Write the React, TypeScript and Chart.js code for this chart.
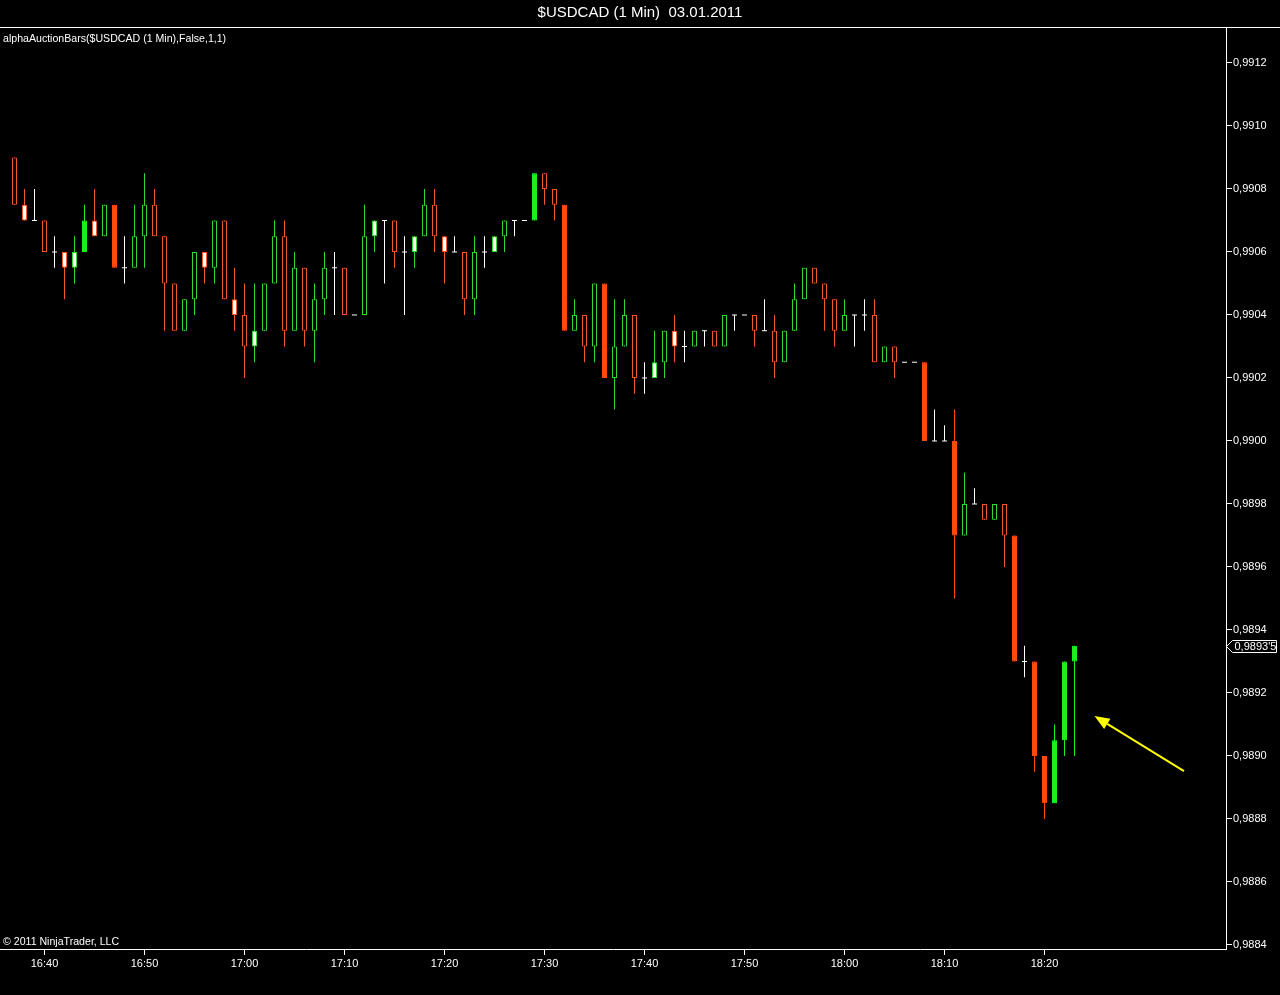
import React, { useEffect, useRef } from 'react';
import { Chart, registerables } from 'chart.js';

Chart.register(...registerables);

// ---------- data ----------
const TITLE = '$USDCAD (1 Min)  03.01.2011';
const INDICATOR_LABEL = 'alphaAuctionBars($USDCAD (1 Min),False,1,1)';
const COPYRIGHT = '\u00A9 2011 NinjaTrader, LLC';

const times = [
  '16:37','16:38','16:39','16:40','16:41','16:42','16:43','16:44','16:45','16:46',
  '16:47','16:48','16:49','16:50','16:51','16:52','16:53','16:54','16:55','16:56',
  '16:57','16:58','16:59','17:00','17:01','17:02','17:03','17:04','17:05','17:06',
  '17:07','17:08','17:09','17:10','17:11','17:12','17:13','17:14','17:15','17:16',
  '17:17','17:18','17:19','17:20','17:21','17:22','17:23','17:24','17:25','17:26',
  '17:27','17:28','17:29','17:30','17:31','17:32','17:33','17:34','17:35','17:36',
  '17:37','17:38','17:39','17:40','17:41','17:42','17:43','17:44','17:45','17:46',
  '17:47','17:48','17:49','17:50','17:51','17:52','17:53','17:54','17:55','17:56',
  '17:57','17:58','17:59','18:00','18:01','18:02','18:03','18:04','18:05','18:06',
  '18:07','18:08','18:09','18:10','18:11','18:12','18:13','18:14','18:15','18:16',
  '18:17','18:18','18:19','18:20','18:21','18:22','18:23',
];

const opens = [
  0.99090,0.99075,0.99070,0.99070,0.99060,0.99060,0.99055,0.99060,0.99070,0.99065,
  0.99075,0.99055,0.99055,0.99065,0.99075,0.99065,0.99050,0.99035,0.99045,0.99060,
  0.99055,0.99070,0.99045,0.99040,0.99030,0.99035,0.99050,0.99065,0.99035,0.99055,
  0.99035,0.99045,0.99055,0.99055,0.99040,0.99040,0.99065,0.99070,0.99070,0.99060,
  0.99060,0.99065,0.99075,0.99065,0.99060,0.99060,0.99045,0.99060,0.99060,0.99065,
  0.99070,0.99070,0.99070,0.99085,0.99080,0.99075,0.99035,0.99040,0.99030,0.99050,
  0.99020,0.99030,0.99040,0.99020,0.99020,0.99025,0.99035,0.99030,0.99030,0.99035,
  0.99035,0.99030,0.99040,0.99040,0.99040,0.99035,0.99035,0.99025,0.99035,0.99045,
  0.99055,0.99050,0.99045,0.99035,0.99040,0.99040,0.99040,0.99025,0.99030,0.99025,
  0.99025,0.99025,0.99000,0.99000,0.99000,0.98970,0.98980,0.98980,0.98975,0.98980,
  0.98970,0.98930,0.98930,0.98900,0.98885,0.98905,0.98930,
];

const highs = [
  0.99090,0.99080,0.99080,0.99070,0.99065,0.99060,0.99065,0.99075,0.99080,0.99075,
  0.99075,0.99065,0.99075,0.99085,0.99080,0.99065,0.99050,0.99045,0.99060,0.99060,
  0.99070,0.99070,0.99055,0.99050,0.99050,0.99050,0.99070,0.99070,0.99060,0.99055,
  0.99050,0.99060,0.99060,0.99055,0.99040,0.99075,0.99070,0.99070,0.99070,0.99065,
  0.99065,0.99080,0.99080,0.99065,0.99065,0.99060,0.99065,0.99065,0.99065,0.99070,
  0.99070,0.99070,0.99085,0.99085,0.99080,0.99075,0.99045,0.99040,0.99050,0.99050,
  0.99045,0.99045,0.99040,0.99025,0.99035,0.99035,0.99040,0.99035,0.99035,0.99035,
  0.99035,0.99040,0.99040,0.99040,0.99040,0.99045,0.99040,0.99035,0.99050,0.99055,
  0.99055,0.99050,0.99045,0.99045,0.99040,0.99045,0.99045,0.99030,0.99030,0.99025,
  0.99025,0.99025,0.99010,0.99005,0.99010,0.98990,0.98985,0.98980,0.98980,0.98980,
  0.98970,0.98935,0.98930,0.98900,0.98910,0.98930,0.98935,
];

const lows = [
  0.99075,0.99070,0.99070,0.99060,0.99055,0.99045,0.99050,0.99060,0.99065,0.99065,
  0.99055,0.99050,0.99055,0.99055,0.99065,0.99035,0.99035,0.99035,0.99040,0.99050,
  0.99050,0.99045,0.99035,0.99020,0.99025,0.99035,0.99050,0.99030,0.99035,0.99030,
  0.99025,0.99040,0.99040,0.99040,0.99040,0.99040,0.99060,0.99050,0.99055,0.99040,
  0.99055,0.99065,0.99060,0.99050,0.99060,0.99040,0.99040,0.99055,0.99060,0.99060,
  0.99065,0.99070,0.99070,0.99075,0.99070,0.99035,0.99035,0.99025,0.99025,0.99020,
  0.99010,0.99030,0.99015,0.99015,0.99020,0.99020,0.99025,0.99025,0.99030,0.99030,
  0.99030,0.99030,0.99035,0.99040,0.99030,0.99035,0.99020,0.99025,0.99035,0.99045,
  0.99050,0.99035,0.99030,0.99035,0.99030,0.99035,0.99025,0.99025,0.99020,0.99025,
  0.99025,0.99000,0.99000,0.99000,0.98950,0.98970,0.98980,0.98975,0.98975,0.98960,
  0.98930,0.98925,0.98895,0.98880,0.98885,0.98900,0.98900,
];

const closes = [
  0.99075,0.99070,0.99070,0.99060,0.99060,0.99055,0.99060,0.99070,0.99065,0.99075,
  0.99055,0.99055,0.99065,0.99075,0.99065,0.99050,0.99035,0.99045,0.99060,0.99055,
  0.99070,0.99045,0.99040,0.99030,0.99035,0.99050,0.99065,0.99035,0.99055,0.99035,
  0.99045,0.99055,0.99055,0.99040,0.99040,0.99065,0.99070,0.99070,0.99060,0.99060,
  0.99065,0.99075,0.99065,0.99060,0.99060,0.99045,0.99060,0.99060,0.99065,0.99070,
  0.99070,0.99070,0.99085,0.99080,0.99075,0.99035,0.99040,0.99030,0.99050,0.99020,
  0.99030,0.99040,0.99020,0.99020,0.99025,0.99035,0.99030,0.99030,0.99035,0.99035,
  0.99030,0.99040,0.99040,0.99040,0.99035,0.99035,0.99025,0.99035,0.99045,0.99055,
  0.99050,0.99045,0.99035,0.99040,0.99040,0.99040,0.99025,0.99030,0.99025,0.99025,
  0.99025,0.99000,0.99000,0.99000,0.98970,0.98980,0.98980,0.98975,0.98980,0.98970,
  0.98930,0.98930,0.98900,0.98885,0.98905,0.98930,0.98935,
];

// bar state from the indicator: h = hollow, w = white body, s = solid, d = doji
const barKinds = [
  'h','w','d','h','d','w','w','s','w','h',
  's','d','h','h','h','h','h','h','h','w',
  'h','h','w','h','w','h','h','h','h','h',
  'h','h','d','h','d','h','w','d','h','d',
  'w','h','h','w','d','h','h','d','w','h',
  'd','d','s','h','h','s','h','h','h','s',
  'h','h','h','d','w','h','w','d','h','d',
  'h','h','d','d','h','d','h','h','h','h',
  'h','h','h','h','d','d','h','h','h','d',
  'd','s','d','d','s','h','d','h','h','h',
  's','d','s','s','s','s','s',
];

const xTickLabels = ['16:40','16:50','17:00','17:10','17:20','17:30','17:40','17:50','18:00','18:10','18:20'];
const yTickValues = [0.9884,0.9886,0.9888,0.9890,0.9892,0.9894,0.9896,0.9898,0.9900,0.9902,0.9904,0.9906,0.9908,0.9910,0.9912];

// annotation arrow (data space: bar index, price)
const arrowTail = { x: 116.95, y: 0.988952 };
const arrowTip = { x: 108.0, y: 0.989127 };

// ---------- styling ----------
const ORANGE_LINE = '#F2592A';
const ORANGE_FILL = '#FF4A0C';
const GREEN_LINE = '#34D834';
const GREEN_FILL = '#1DEF1D';
const WHITE = '#FFFFFF';
const FONT = '"Liberation Sans", Arial, sans-serif';

const X_MIN = -1.45;
const X_MAX = 121.15;
const Y_MIN = 0.9883873;
const Y_MAX = 0.99131111;

export default function App() {
  const ref = useRef<HTMLCanvasElement>(null);

  useEffect(() => {
    const canvas = ref.current;
    if (!canvas) return;

    const n = times.length;
    const idx = Array.from({ length: n }, (_, i) => i);
    const isDoji = (i: number) => opens[i] === closes[i];
    const isUp = (i: number) => closes[i] > opens[i];
    const lineCol = (i: number) => (isDoji(i) ? WHITE : isUp(i) ? GREEN_LINE : ORANGE_LINE);
    const solidCol = (i: number) => (isUp(i) ? GREEN_FILL : ORANGE_FILL);

    const bodyIdx = idx.filter((i) => !isDoji(i));
    const dojiIdx = idx.filter((i) => isDoji(i));

    const bodyBg = bodyIdx.map((i) =>
      barKinds[i] === 's' ? solidCol(i) : barKinds[i] === 'w' ? WHITE : '#000000'
    );
    const bodyBorder = bodyIdx.map((i) => (barKinds[i] === 's' ? solidCol(i) : lineCol(i)));
    const wickCol = idx.map((i) => (barKinds[i] === 's' ? solidCol(i) : lineCol(i)));

    const overlay = {
      id: 'overlay',
      beforeDraw(chart: any) {
        const { ctx, width, height } = chart;
        ctx.save();
        ctx.fillStyle = '#000';
        ctx.fillRect(0, 0, width, height);
        ctx.restore();
      },
      afterDraw(chart: any) {
        const { ctx, chartArea } = chart;
        const xs = chart.scales.x;
        const ys = chart.scales.y;
        ctx.save();
        ctx.strokeStyle = WHITE;
        ctx.lineWidth = 1;
        ctx.beginPath();
        ctx.moveTo(0, 27.5);
        ctx.lineTo(chart.width, 27.5);
        ctx.stroke();

        ctx.fillStyle = WHITE;
        ctx.textBaseline = 'middle';
        ctx.textAlign = 'center';
        ctx.font = `15px ${FONT}`;
        ctx.fillText(TITLE, chart.width / 2, 13);

        ctx.textAlign = 'left';
        ctx.font = `10.6px ${FONT}`;
        ctx.fillText(INDICATOR_LABEL, 3, 39);
        ctx.fillText(COPYRIGHT, 3, 942);

        // last price marker
        ctx.font = `11px ${FONT}`;
        const last = closes[n - 1];
        const tenths = Math.round(last * 100000);
        const label =
          (Math.floor(tenths / 10) / 10000).toFixed(4).replace('.', ',') + "'" + (tenths % 10);
        const py = Math.round(ys.getPixelForValue(last)) + 0.5;
        const bx = chartArea.right + 0.5;
        ctx.beginPath();
        ctx.moveTo(bx, py);
        ctx.lineTo(bx + 6, py - 6);
        ctx.lineTo(bx + 50, py - 6);
        ctx.lineTo(bx + 50, py + 6);
        ctx.lineTo(bx + 6, py + 6);
        ctx.closePath();
        ctx.fillStyle = '#000';
        ctx.fill();
        ctx.stroke();
        ctx.fillStyle = WHITE;
        ctx.fillText(label, bx + 8, py + 0.5);

        // yellow arrow
        const x0 = xs.getPixelForValue(arrowTail.x);
        const y0 = ys.getPixelForValue(arrowTail.y);
        const x1 = xs.getPixelForValue(arrowTip.x);
        const y1 = ys.getPixelForValue(arrowTip.y);
        const ang = Math.atan2(y1 - y0, x1 - x0);
        const headLen = 15;
        const headHalf = 6;
        const bxh = x1 - Math.cos(ang) * headLen;
        const byh = y1 - Math.sin(ang) * headLen;
        ctx.strokeStyle = '#FFFF00';
        ctx.fillStyle = '#FFFF00';
        ctx.lineWidth = 2;
        ctx.beginPath();
        ctx.moveTo(x0, y0);
        ctx.lineTo(bxh, byh);
        ctx.stroke();
        ctx.beginPath();
        ctx.moveTo(x1, y1);
        ctx.lineTo(bxh + Math.sin(ang) * headHalf, byh - Math.cos(ang) * headHalf);
        ctx.lineTo(bxh - Math.sin(ang) * headHalf, byh + Math.cos(ang) * headHalf);
        ctx.closePath();
        ctx.fill();
        ctx.restore();
      },
    };

    const chart = new Chart(canvas, {
      type: 'bar',
      data: {
        datasets: [
          {
            type: 'bar',
            label: 'wicks',
            data: idx.map((i) => ({ x: i, y: [lows[i], highs[i]] })) as any,
            backgroundColor: wickCol,
            borderWidth: 0,
            barThickness: 1,
            grouped: false,
            inflateAmount: 0,
            order: 3,
          } as any,
          {
            type: 'bar',
            label: 'bodies',
            data: bodyIdx.map((i) => ({ x: i, y: [opens[i], closes[i]] })) as any,
            backgroundColor: bodyBg,
            borderColor: bodyBorder,
            borderWidth: 1,
            borderSkipped: false,
            barThickness: 5,
            grouped: false,
            inflateAmount: 0,
            order: 2,
          } as any,
          {
            type: 'scatter',
            label: 'doji',
            data: dojiIdx.map((i) => ({ x: i, y: closes[i] })),
            pointStyle: 'line',
            pointRadius: 2.5,
            pointHoverRadius: 2.5,
            pointBorderWidth: 1,
            borderColor: WHITE,
            backgroundColor: WHITE,
            clip: false,
            order: 1,
          } as any,
        ],
      },
      options: {
        animation: false,
        responsive: false,
        maintainAspectRatio: false,
        devicePixelRatio: 1,
        events: [],
        layout: { autoPadding: false, padding: { top: 28, left: 0, right: 0, bottom: 0 } },
        plugins: {
          legend: { display: false },
          tooltip: { enabled: false },
          title: { display: false },
        },
        scales: {
          x: {
            type: 'linear',
            position: 'bottom',
            min: X_MIN,
            max: X_MAX,
            offset: false,
            afterBuildTicks: (s: any) => {
              s.ticks = xTickLabels.map((t) => ({ value: times.indexOf(t) }));
            },
            afterFit: (s: any) => {
              s.height = 46;
              s.paddingLeft = 0;
              s.paddingRight = 0;
            },
            ticks: {
              color: WHITE,
              font: { family: FONT, size: 11 },
              autoSkip: false,
              maxRotation: 0,
              minRotation: 0,
              padding: 2,
              callback: (v: any) => times[Math.round(Number(v))] ?? '',
            },
            grid: { offset: false, drawOnChartArea: false, drawTicks: true, tickLength: 6, color: WHITE, lineWidth: 1 },
            border: { display: true, color: WHITE, width: 1 },
          },
          y: {
            type: 'linear',
            position: 'right',
            min: Y_MIN,
            max: Y_MAX,
            afterBuildTicks: (s: any) => {
              s.ticks = yTickValues.map((v) => ({ value: v }));
            },
            afterFit: (s: any) => {
              s.width = 54;
              s.paddingTop = 0;
              s.paddingBottom = 0;
            },
            ticks: {
              color: WHITE,
              font: { family: FONT, size: 11 },
              padding: 1,
              callback: (v: any) => Number(v).toFixed(4).replace('.', ','),
            },
            grid: { offset: false, drawOnChartArea: false, drawTicks: true, tickLength: 6, color: WHITE, lineWidth: 1 },
            border: { display: true, color: WHITE, width: 1 },
          },
        },
      } as any,
      plugins: [overlay],
    });

    return () => chart.destroy();
  }, []);

  return (
    <div style={{ position: 'absolute', left: 0, top: 0, width: 1280, height: 995, background: '#000', overflow: 'hidden' }}>
      <canvas ref={ref} width={1280} height={995} style={{ display: 'block', width: 1280, height: 995 }} />
    </div>
  );
}
